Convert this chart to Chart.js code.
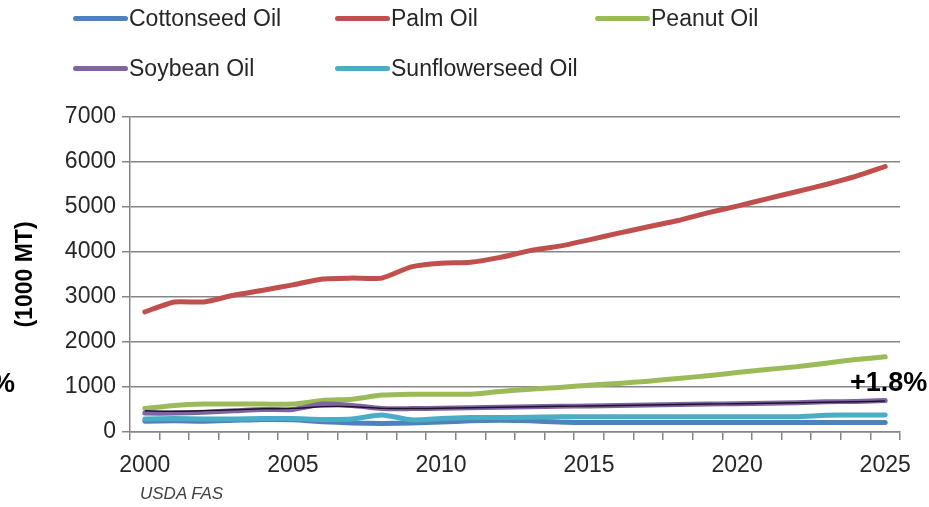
<!DOCTYPE html>
<html>
<head>
<meta charset="utf-8">
<script src="https://cdn.jsdelivr.net/npm/chart.js@4"></script>
<style>
  html, body { margin: 0; padding: 0; background: #fff; }
  #wrap { position: relative; width: 929px; height: 507px; }
  #legend { position: absolute; left: 73px; top: 0; width: 850px;
    display: grid; grid-template-columns: 262px 260px 260px; grid-auto-rows: 50px;
    font-family: "Liberation Sans", Arial, sans-serif; font-size: 23px; color: #262626; }
  .item { display: flex; align-items: center; height: 36px; white-space: nowrap; }
  .swatch { width: 55px; height: 5px; border-radius: 3px; margin-right: 1px; }
  #note { position: absolute; left: 140px; top: 484px; font-family: "Liberation Sans", Arial, sans-serif;
    font-style: italic; font-size: 17px; color: #404040; }
</style>
</head>
<body>
<div id="wrap">
  <canvas id="chart" width="929" height="507"></canvas>
  <div id="legend"></div>
  <div id="note">USDA FAS</div>
</div>
<script>
const years = [2000, 2001, 2002, 2003, 2004, 2005, 2006, 2007, 2008, 2009, 2010, 2011, 2012,
  2013, 2014, 2015, 2016, 2017, 2018, 2019, 2020, 2021, 2022, 2023, 2024, 2025];

const cottonseed = [240, 250, 240, 260, 280, 270, 230, 200, 190, 200, 220, 250, 260,
  250, 220, 210, 210, 210, 210, 210, 210, 210, 210, 210, 210, 210];
const palm = [2670, 2890, 2890, 3040, 3150, 3270, 3400, 3420, 3420, 3670, 3750, 3770, 3880,
  4030, 4130, 4270, 4420, 4560, 4700, 4870, 5020, 5180, 5340, 5500, 5680, 5900];
const peanut = [520, 590, 620, 620, 620, 620, 700, 730, 820, 840, 840, 840, 900,
  950, 990, 1040, 1080, 1130, 1190, 1250, 1320, 1390, 1450, 1530, 1610, 1670];
const soybean = [420, 420, 440, 470, 500, 500, 620, 590, 520, 520, 530, 540, 550,
  560, 570, 580, 590, 600, 610, 620, 630, 640, 650, 670, 680, 700];
const sunflowerseed = [290, 300, 290, 290, 300, 300, 280, 290, 380, 270, 300, 320, 320,
  330, 340, 340, 340, 340, 340, 340, 340, 340, 340, 370, 380, 380];
const trend = [470, 460, 475, 495, 515, 525, 560, 560, 525, 520, 530, 540, 550,
  560, 570, 580, 590, 600, 610, 620, 630, 640, 650, 660, 670, 690];

const yTicks = [0, 1000, 2000, 3000, 4000, 5000, 6000, 7000];

const series = [
  { label: 'Cottonseed Oil', data: cottonseed, color: '#4F81BD' },
  { label: 'Palm Oil', data: palm, color: '#C0504D' },
  { label: 'Peanut Oil', data: peanut, color: '#9BBB59' },
  { label: 'Soybean Oil', data: soybean, color: '#8064A2' },
  { label: 'Sunflowerseed Oil', data: sunflowerseed, color: '#4BACC6' }
];

const FONT = '"Liberation Sans", Arial, sans-serif';

// legend in fixed columns like the original
const legend = document.getElementById('legend');
series.forEach(s => {
  const d = document.createElement('div');
  d.className = 'item';
  d.innerHTML = `<span class="swatch" style="background:${s.color}"></span>${s.label}`;
  legend.appendChild(d);
});

// later series on top, as in the original
const datasets = series.map((s, i) => ({
  label: s.label, data: s.data, borderColor: s.color, backgroundColor: s.color,
  borderWidth: 5, pointRadius: 0, tension: 0.2, borderCapStyle: 'round', borderJoinStyle: 'round',
  order: series.length - i
}));
// thin dark line running along the soybean series
datasets.push({ label: '', data: trend, borderColor: '#1f1430', borderWidth: 1.5,
  pointRadius: 0, tension: 0.2, order: 0 });

// extra text: growth label and cut-off label at the left edge
const labelsPlugin = {
  id: 'labels',
  afterDraw(chart) {
    const ctx = chart.ctx;
    const x = chart.scales.x, y = chart.scales.y;
    ctx.save();
    ctx.fillStyle = '#000';
    ctx.font = 'bold 27px ' + FONT;
    ctx.textBaseline = 'middle';
    ctx.textAlign = 'right';
    ctx.fillText('+1.8%', x.getPixelForValue(years.length - 1) + 42, y.getPixelForValue(soybean[soybean.length - 1]) - 17);
    ctx.fillText('%', 15, 385);
    ctx.restore();
  }
};

new Chart(document.getElementById('chart'), {
  type: 'line',
  data: { labels: years, datasets },
  plugins: [labelsPlugin],
  options: {
    responsive: false,
    animation: false,
    layout: { padding: { left: 0, right: 29, top: 117, bottom: 0 } },
    plugins: { legend: { display: false }, tooltip: { enabled: false } },
    scales: {
      x: {
        offset: true,
        afterFit(s) { s.height = 75; },
        grid: { offset: true, drawOnChartArea: false, color: '#868686', lineWidth: 1.5, tickLength: 8, tickColor: '#868686' },
        border: { color: '#868686', width: 1.5 },
        ticks: {
          autoSkip: false, maxRotation: 0, padding: 12, color: '#262626',
          font: { family: FONT, size: 23 },
          callback(v, i) { return years[i] % 5 === 0 ? String(years[i]) : ''; }
        }
      },
      y: {
        min: 0, max: 7000,
        afterFit(s) { s.width = 130; },
        afterBuildTicks(s) { s.ticks = yTicks.map(v => ({ value: v })); },
        grid: { color: '#868686', lineWidth: 1.5, tickLength: 8 },
        border: { color: '#868686', width: 1.5 },
        ticks: { padding: 6, color: '#262626', font: { family: FONT, size: 23 },
          callback(v) { return String(v); } },
        title: { display: true, text: '(1000 MT)', color: '#000', padding: { top: 12, bottom: 0 },
          font: { family: FONT, size: 23, weight: 'bold' } }
      }
    }
  }
});
</script>
</body>
</html>
